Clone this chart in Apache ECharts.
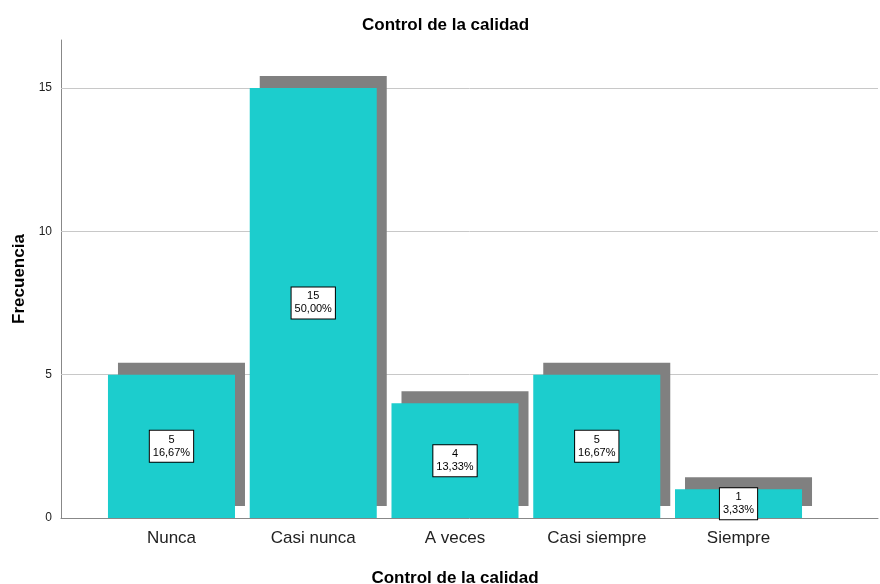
<!DOCTYPE html>
<html>
<head>
<meta charset="utf-8">
<script src="https://cdn.jsdelivr.net/npm/echarts@6/dist/echarts.min.js"></script>
<style>
	html, body { margin: 0; padding: 0; background: #fff; }
	#chart1 { width: 880px; height: 584px; }
</style>
</head>
<body>
<div id="chart1"></div>
<script>
// datos
var categorias = ['Nunca', 'Casi nunca', 'A veces', 'Casi siempre', 'Siempre'];
var frecuencias = [5, 15, 4, 5, 1];
var porcentajes = ['16,67%', '50,00%', '13,33%', '16,67%', '3,33%'];
var ticksY = [5, 10, 15];

var fuente = 'Liberation Sans, Arial, sans-serif';
var yMax = 16.67;

var myChart1 = echarts.init(document.getElementById('chart1'));
var option1 = {
	animation: false,
	title: {
		text: 'Control de la calidad',
		left: 362,
		top: 17,
		padding: 0,
		textStyle: { fontFamily: fuente, fontSize: 17, fontWeight: 'bold', color: '#000' }
	},
	grid: [
		// ejes y líneas de cuadrícula
		{ left: 61, right: 2, top: 40, bottom: 66, containLabel: false, outerBoundsMode: 'none' },
		// barras
		{ left: 100.6, right: 70.6, top: 40, bottom: 66, containLabel: false, outerBoundsMode: 'none' }
	],
	xAxis: [{
		gridIndex: 0,
		type: 'value',
		min: 0,
		max: 1,
		axisLine: { show: true, lineStyle: { color: '#888', width: 1 } },
		axisTick: { show: false },
		axisLabel: { show: false },
		splitLine: { show: false }
	}, {
		gridIndex: 1,
		type: 'category',
		data: categorias,
		axisLine: { show: false },
		axisTick: { show: false },
		axisLabel: { margin: 12, fontFamily: fuente, fontSize: 17, color: '#222' },
		name: 'Control de la calidad',
		nameLocation: 'middle',
		nameGap: 52,
		nameTextStyle: { fontFamily: fuente, fontSize: 17, fontWeight: 'bold', color: '#000' }
	}],
	yAxis: [{
		gridIndex: 0,
		type: 'value',
		min: 0,
		max: yMax,
		interval: 5,
		axisLine: { show: true, lineStyle: { color: '#888', width: 1 } },
		axisTick: { show: false },
		axisLabel: { showMaxLabel: false, margin: 9, fontFamily: fuente, fontSize: 12, color: '#222' },
		splitLine: { show: false },
		name: 'Frecuencia',
		nameLocation: 'middle',
		nameGap: 33,
		nameTextStyle: { fontFamily: fuente, fontSize: 17, fontWeight: 'bold', color: '#000' }
	}, {
		gridIndex: 1,
		type: 'value',
		min: 0,
		max: yMax,
		show: false
	}],
	series: [{
		// líneas de cuadrícula
		type: 'line',
		xAxisIndex: 0,
		yAxisIndex: 0,
		data: [],
		z: 1,
		silent: true,
		markLine: {
			silent: true,
			z: 1,
			symbol: 'none',
			label: { show: false },
			lineStyle: { color: '#c8c8c8', type: 'solid', width: 1 },
			data: ticksY.map(function(v) { return { yAxis: v }; })
		}
	}, {
		name: 'Frecuencia',
		type: 'bar',
		xAxisIndex: 1,
		yAxisIndex: 1,
		z: 6,
		barWidth: '89.6%',
		data: frecuencias,
		itemStyle: {
			color: '#1ccdcd',
			shadowColor: '#808080',
			shadowBlur: 0,
			shadowOffsetX: 10,
			shadowOffsetY: -12
		},
		emphasis: { disabled: true },
		label: {
			show: true,
			position: 'inside',
			formatter: function(params) {
				return frecuencias[params.dataIndex] + '\n' + porcentajes[params.dataIndex];
			},
			fontFamily: fuente,
			fontSize: 11,
			lineHeight: 13,
			color: '#000',
			backgroundColor: '#fff',
			borderColor: '#000',
			borderWidth: 1,
			padding: [3, 3, 2, 3]
		}
	}]
};
myChart1.setOption(option1);
</script>
</body>
</html>
